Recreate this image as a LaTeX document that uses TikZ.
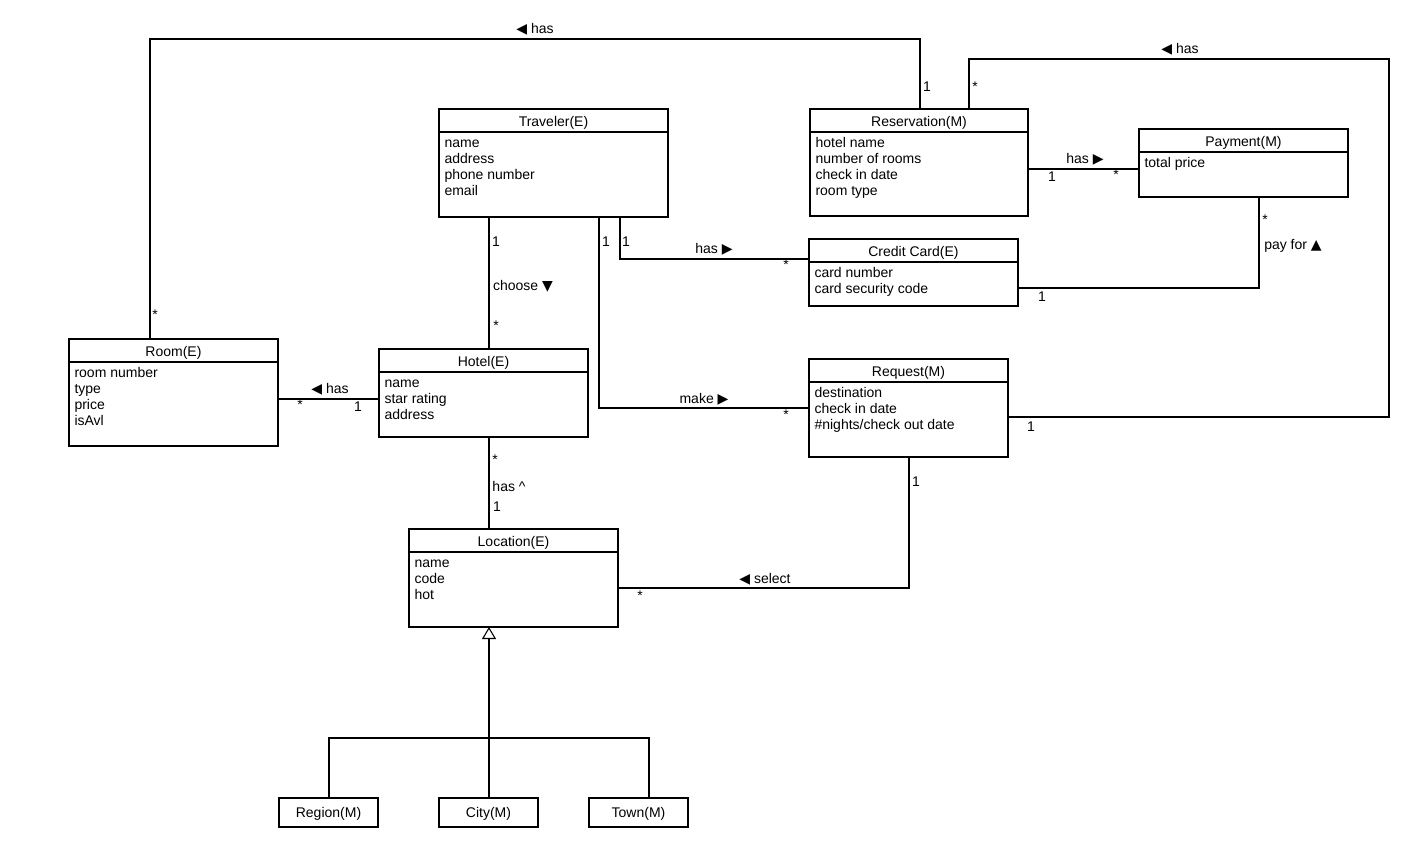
\documentclass[tikz,border=0pt]{standalone}
\usepackage{fontspec}
\setmainfont{Liberation Sans}
\newfontfamily\symf{DejaVu Sans}
\usetikzlibrary{calc,arrows.meta}
\newcommand\tri[1]{{\symf\fontsize{10.5}{11}\selectfont #1}}
\newcommand\fl{\rule{0pt}{7.5pt}}
\newcommand\umlcls[7]{%
  \node[box, minimum width=#4*0.75pt, minimum height=#5*0.75pt] (#1) at (#2,#3) {};
  \draw ($(#1.north west)+(0,23)$) -- ($(#1.north east)+(0,23)$);
  \node[lbl] at ($(#1.north)+(0,13.5)$) {#6};
  \node[attr] at ($(#1.north west)+(5,27.5)$) {\fl #7};
}
\begin{document}
\begin{tikzpicture}[x=0.75pt,y=-0.75pt,
  font=\fontsize{10.5}{12}\selectfont, line width=0.8pt,
  box/.style={draw, inner sep=0pt, outer sep=0pt, anchor=north west},
  lbl/.style={inner sep=0pt},
  attr/.style={inner sep=0pt, anchor=north west, align=left}]
\useasboundingbox[fill=white] (0,0) rectangle (1417,847);

% classes
\umlcls{trav}{439}{109}{229}{108}{Traveler(E)}{name\\address\\phone number\\email}
\umlcls{res}{810}{109}{218}{107}{Reservation(M)}{hotel name\\number of rooms\\check in date\\room type}
\umlcls{pay}{1139}{129}{209}{68}{Payment(M)}{total price}
\umlcls{cc}{809}{239}{209}{67}{Credit Card(E)}{card number\\card security code}
\umlcls{room}{69}{339}{209}{107}{Room(E)}{room number\\type\\price\\isAvl}
\umlcls{hotel}{379}{349}{209}{88}{Hotel(E)}{name\\star rating\\address}
\umlcls{req}{809}{359}{199}{98}{Request(M)}{destination\\check in date\\\#nights/check out date}
\umlcls{loc}{409}{529}{209}{98}{Location(E)}{name\\code\\hot}

\node[box, minimum width=99*0.75pt, minimum height=29*0.75pt] (region) at (279,798) {};
\node[lbl] at ($(region.center)+(0,1)$) {Region(M)};
\node[box, minimum width=99*0.75pt, minimum height=29*0.75pt] (city) at (439,798) {};
\node[lbl] at ($(city.center)+(0,1)$) {City(M)};
\node[box, minimum width=99*0.75pt, minimum height=29*0.75pt] (town) at (589,798) {};
\node[lbl] at ($(town.center)+(0,1)$) {Town(M)};

% Room - Reservation
\coordinate (a1) at (150,39); \coordinate (a2) at (920,39);
\draw (room.north -| a1) -- (a1) -- (a2) -- (res.north -| a2);
\node[lbl] at (535,29) {\tri{◀} has};
\node[lbl] at (155,315) {*};
\node[lbl] at (927,87) {1};

% Reservation - Request
\coordinate (b1) at (969,59); \coordinate (b2) at (1389,59); \coordinate (b3) at (1389,417);
\draw (res.north -| b1) -- (b1) -- (b2) -- (b3) -- (req.east |- b3);
\node[lbl] at (1180,49) {\tri{◀} has};
\node[lbl] at (975,87) {*};
\node[lbl] at (1031,427) {1};

% Reservation - Payment
\coordinate (c1) at (1080,169);
\draw (res.east |- c1) -- (pay.west |- c1);
\node[lbl] at (1085,159) {has \tri{▶}};
\node[lbl] at (1052,177) {1};
\node[lbl] at (1116,175) {*};

% Payment - Credit Card
\coordinate (d1) at (1259,288);
\draw (pay.south -| d1) -- (d1) -- (cc.east |- d1);
\node[lbl] at (1265,220) {*};
\node[lbl] at (1293,246) {pay for \tri{▲}};
\node[lbl] at (1042,297) {1};

% Traveler - Credit Card
\coordinate (e1) at (620,259);
\draw (trav.south -| e1) -- (e1) -- (cc.west |- e1);
\node[lbl] at (626,242) {1};
\node[lbl] at (714,249) {has \tri{▶}};
\node[lbl] at (786,265) {*};

% Traveler - Request
\coordinate (f1) at (599,408);
\draw (trav.south -| f1) -- (f1) -- (req.west |- f1);
\node[lbl] at (606,242) {1};
\node[lbl] at (704,399) {make \tri{▶}};
\node[lbl] at (786,415) {*};

% Traveler - Hotel
\coordinate (g1) at (489,300);
\draw (trav.south -| g1) -- (hotel.north -| g1);
\node[lbl] at (496,242) {1};
\node[lbl] at (523,286) {choose \tri{▼}};
\node[lbl] at (496,326) {*};

% Room - Hotel
\coordinate (h1) at (330,399);
\draw (room.east |- h1) -- (hotel.west |- h1);
\node[lbl] at (330,389) {\tri{◀} has};
\node[lbl] at (300,405) {*};
\node[lbl] at (358,407) {1};

% Hotel - Location
\draw (hotel.south -| g1) -- (loc.north -| g1);
\node[lbl] at (495,460) {*};
\node[lbl] at (509,486) {has \textasciicircum};
\node[lbl] at (497,507) {1};

% Request - Location
\coordinate (i1) at (909,588);
\draw (req.south -| i1) -- (i1) -- (loc.east |- i1);
\node[lbl] at (916,482) {1};
\node[lbl] at (765,579) {\tri{◀} select};
\node[lbl] at (640,596) {*};

% Generalization
\coordinate (j0) at (489,738); \coordinate (j1) at (329,738); \coordinate (j2) at (649,738);
\draw (region.north -| j1) -- (j1) -- (j2) -- (town.north -| j2);
\draw[-{Triangle[open, length=9pt, width=10.5pt]}] (city.north -| j0) -- (loc.south -| j0);
\end{tikzpicture}
\end{document}
